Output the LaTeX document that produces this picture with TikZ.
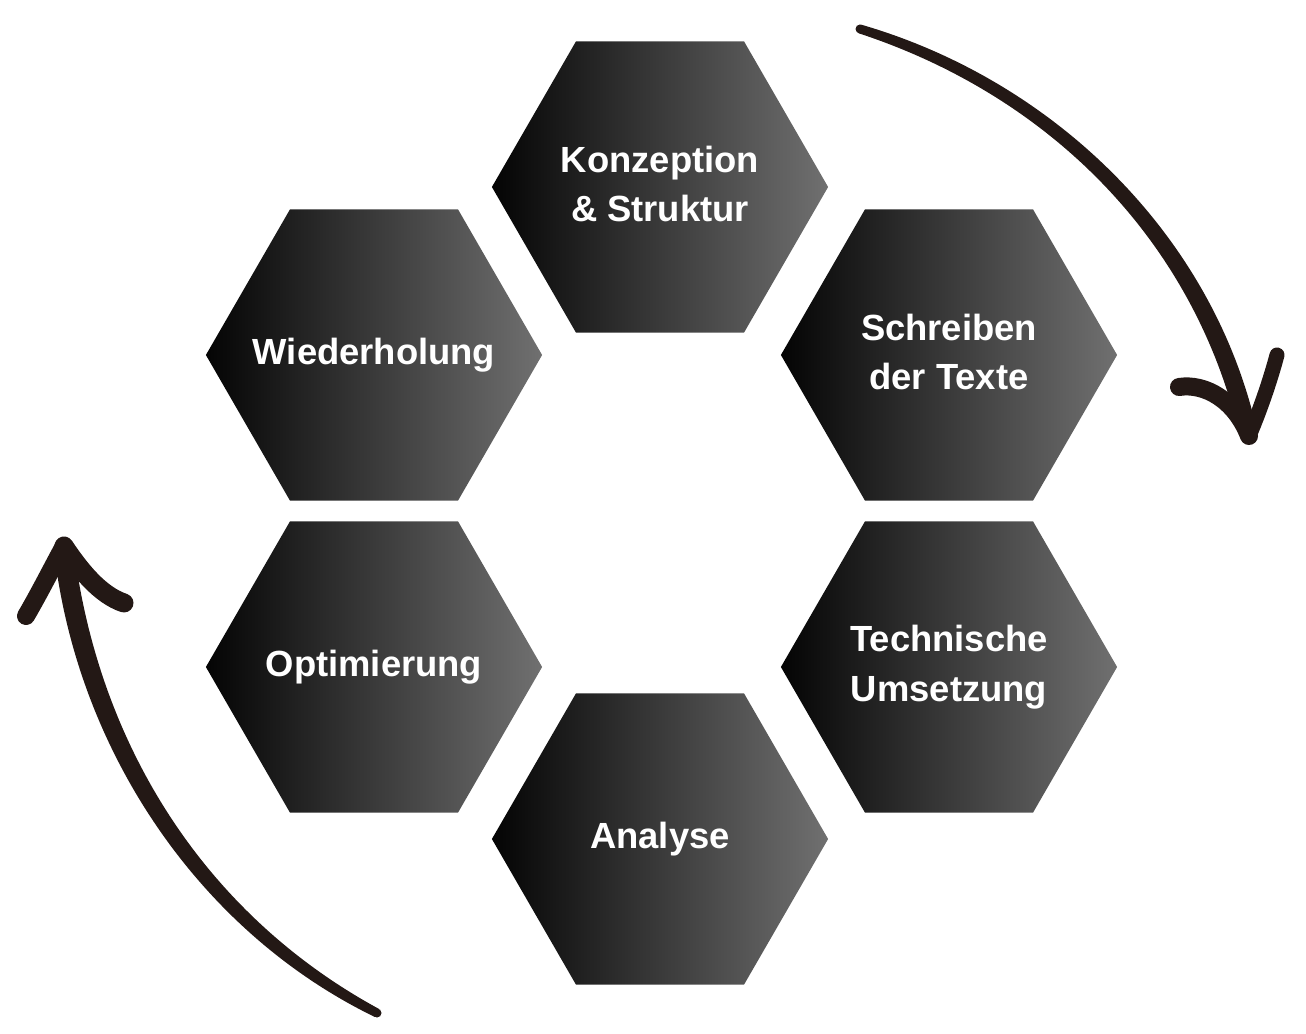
\documentclass[tikz,border=0pt]{standalone}
\usepackage{fontspec}
\setmainfont{Liberation Sans}
\usetikzlibrary{shapes.geometric}
\definecolor{hexdark}{RGB}{4,4,4}
\definecolor{hexlight}{RGB}{112,112,112}
\definecolor{brushcol}{RGB}{35,24,21}
\begin{document}
\begin{tikzpicture}[
    x		= 0.01cm,
    y		= -0.01cm,
    hexa/.style	= {regular polygon, regular polygon sides=6, minimum size=3.36cm,
                   inner sep=0pt, left color=hexdark, right color=hexlight},
    hextext/.style	= {text=white, align=center, inner sep=0pt,
                   font=\bfseries\fontsize{10.35}{14.2}\selectfont},
    brush/.style	= {draw=brushcol, line width=0.18cm, line cap=round, line join=round}
  ]
\useasboundingbox (0,0) rectangle (1306,1034);
% hexagons
\node[hexa] (konz) at (660,187) {};
\node[hexa] (wied) at (374,355) {};
\node[hexa] (schr) at (949,355) {};
\node[hexa] (opti) at (374,667) {};
\node[hexa] (tech) at (949,667) {};
\node[hexa] (anal) at (660,839) {};
% labels
\node[hextext] at ([yshift=0.03cm]konz.center) {Konzeption\\\& Struktur};
\node[hextext] at (wied.center) {Wiederholung};
\node[hextext] at ([yshift=0.03cm]schr.center) {Schreiben\\der Texte};
\node[hextext] at (opti.center) {Optimierung};
\node[hextext] at (tech.center) {Technische\\Umsetzung};
\node[hextext] at (anal.center) {Analyse};
% upper arrow
\fill[brushcol] (861.3,24.7) .. controls (1053.4,80.4) and (1212.7,234.7) .. (1256.8,430)
  -- (1239.2,434) .. controls (1193.3,239.3) and (1048.6,95.6) .. (858.7,33.3) -- cycle;
\fill[brushcol] (860,29) circle[radius=0.045cm];
\draw[brush] (1179,387) .. controls (1205,383) and (1235,400) .. (1249,436);
\draw[brush, line width=0.15cm] (1277,355) .. controls (1269,385) and (1258,415) .. (1249,436);
% lower arrow
\fill[brushcol] (374.9,1017) .. controls (196.9,930.5) and (76.7,747.9) .. (54.1,551.2)
  -- (73.9,548.8) .. controls (98.5,745.3) and (205.1,914.5) .. (379.1,1009) -- cycle;
\fill[brushcol] (377,1013) circle[radius=0.045cm];
\draw[brush] (64,546) .. controls (53,566) and (40,592) .. (26,616);
\draw[brush, line width=0.19cm] (64,546) .. controls (80,570) and (100,595) .. (124,603);
%
\end{tikzpicture}
\end{document}
